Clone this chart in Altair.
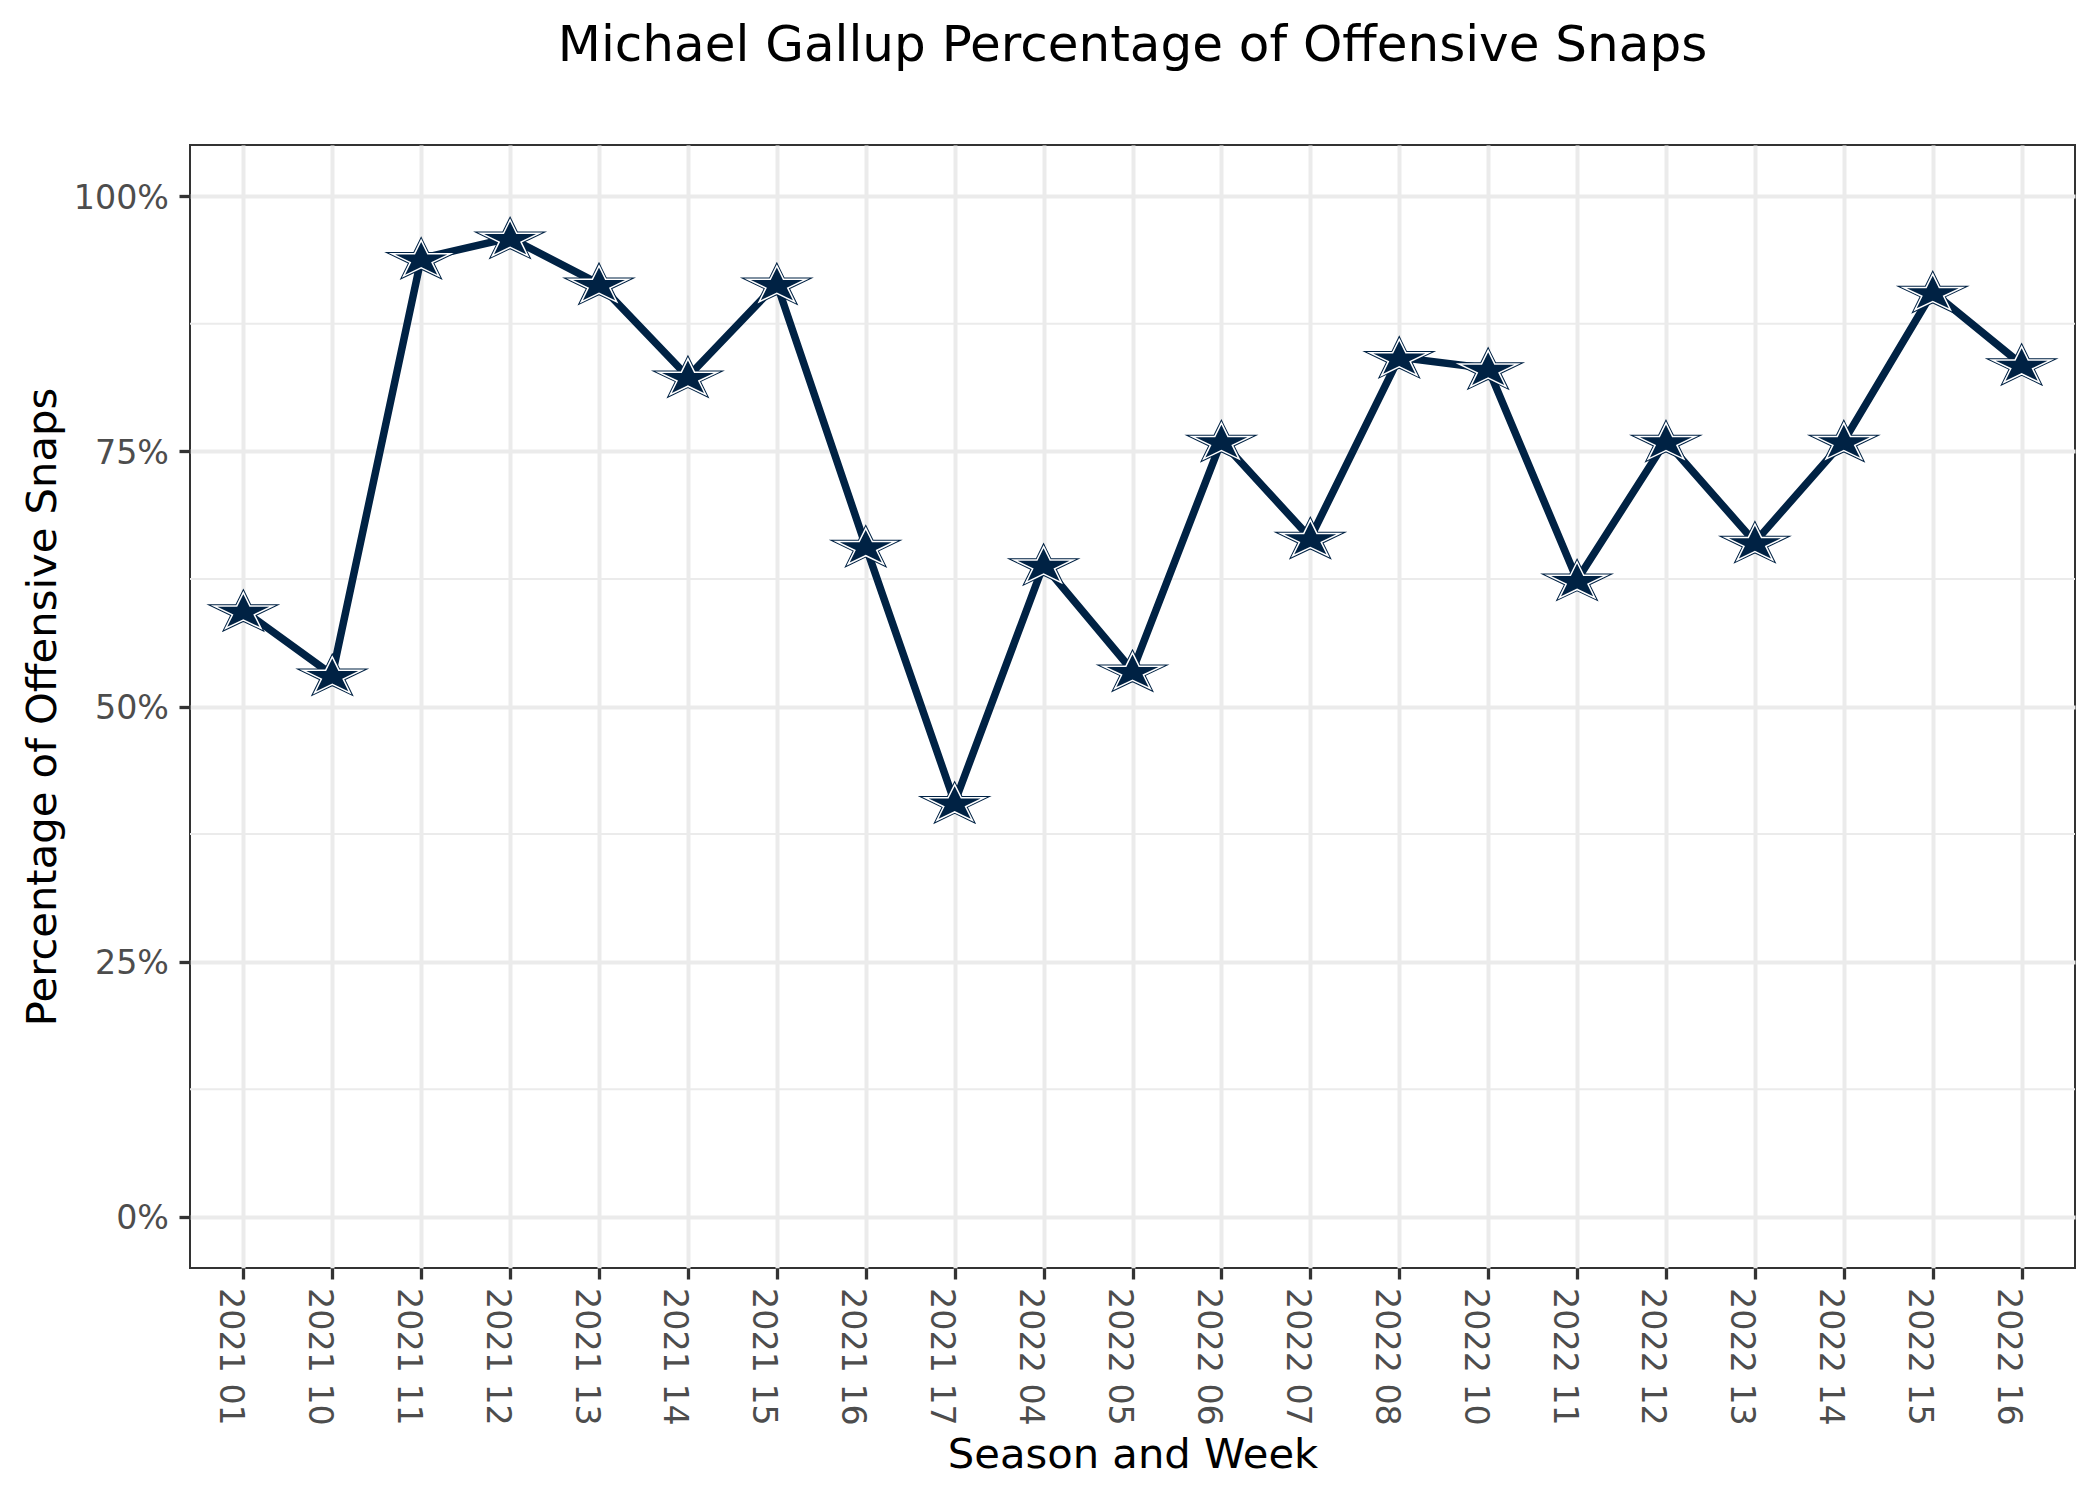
import math
import altair as alt
import pandas as pd

# ---- data ----
weeks = ["2021 01", "2021 10", "2021 11", "2021 12", "2021 13", "2021 14", "2021 15",
         "2021 16", "2021 17", "2022 04", "2022 05", "2022 06", "2022 07", "2022 08",
         "2022 10", "2022 11", "2022 12", "2022 13", "2022 14", "2022 15", "2022 16"]
snap_pct = [0.594, 0.531, 0.939, 0.959, 0.914, 0.823, 0.914,
            0.657, 0.406, 0.639, 0.535, 0.760, 0.665, 0.842,
            0.831, 0.624, 0.760, 0.661, 0.760, 0.906, 0.835]
y_major = [0, 0.25, 0.5, 0.75, 1.0]
y_minor = [0.125, 0.375, 0.625, 0.875]

NAVY = "#002244"
FONT = "DejaVu Sans"


def star_path(k=0.66, inner=0.382):
    """Five-pointed star shape (squashed vertically), bbox centred on origin."""
    c = 0.0955 * k
    pts = []
    for i in range(10):
        r = 1.0 if i % 2 == 0 else inner
        a = math.radians(36 * i)
        pts.append((r * math.sin(a), -r * math.cos(a) * k + c))
    return "M" + "L".join(f"{x:.4f},{y:.4f}" for x, y in pts) + "Z"


STAR = star_path()

df = pd.DataFrame({"week": weeks, "pct": snap_pct})
minor_df = pd.DataFrame({"pct": y_minor})

x_enc = alt.X(
    "week:O", sort=None, title="Season and Week",
    scale=alt.Scale(type="point", padding=0.6),
    axis=alt.Axis(
        grid=True, gridColor="#ebebeb", gridWidth=4, domain=False,
        ticks=True, tickColor="#333333", tickWidth=3.3, tickSize=11,
        labelAngle=90, labelAlign="left", labelBaseline="alphabetic",
        labelOffset=-24, labelPadding=8.6, labelFont=FONT, labelFontSize=33.3,
        labelColor="#4d4d4d", labelOverlap=False, labelFlush=False,
        titleFont=FONT, titleFontSize=41.7, titleFontWeight="normal",
        titleColor="black", titleY=199, titleBaseline="alphabetic",
        titleAlign="center",
    ),
)

y_enc = alt.Y(
    "pct:Q", title="Percentage of Offensive Snaps",
    scale=alt.Scale(domain=[-0.05, 1.05], nice=False, zero=False),
    axis=alt.Axis(
        values=y_major, format=".0%",
        grid=True, gridColor="#ebebeb", gridWidth=4, domain=False,
        ticks=True, tickColor="#333333", tickWidth=3.3, tickSize=11,
        labelPadding=10.5, labelFont=FONT, labelFontSize=33.3,
        labelColor="#4d4d4d", labelBaseline="middle", labelOffset=2,
        labelFlush=False,
        titleFont=FONT, titleFontSize=41.7, titleFontWeight="normal",
        titleColor="black", titleAngle=-90, titleX=-135, titleY=561.5,
        titleBaseline="alphabetic", titleAlign="center",
    ),
)

minor = alt.Chart(minor_df).mark_rule(color="#ebebeb", strokeWidth=2).encode(y=y_enc)

base = alt.Chart(df).encode(x=x_enc, y=y_enc)

line = base.mark_line(color=NAVY, strokeWidth=7.5, strokeJoin="round")

STAR_SIZE = 2990
star_a = base.mark_point(shape=STAR, size=STAR_SIZE, filled=True, fill=NAVY,
                         stroke=NAVY, strokeWidth=5.0, opacity=1,
                         strokeJoin="miter", strokeMiterLimit=10)
star_b = base.mark_point(shape=STAR, size=STAR_SIZE, filled=True, fill=NAVY,
                         stroke="white", strokeWidth=3.0, opacity=1,
                         strokeJoin="miter", strokeMiterLimit=10)
star_c = base.mark_point(shape=STAR, size=STAR_SIZE, filled=True, fill=NAVY,
                         strokeWidth=0, opacity=1)

chart = (
    alt.layer(minor, line, star_a, star_b, star_c)
    .properties(
        width=1885, height=1123,
        title=alt.TitleParams(
            "Michael Gallup Percentage of Offensive Snaps",
            font=FONT, fontSize=50, fontWeight="normal", color="black",
            anchor="middle", frame="group", baseline="alphabetic", offset=34,
        ),
        autosize=alt.AutoSizeParams(type="none"),
        padding={"left": 182, "top": 137, "right": 17, "bottom": 215},
        background="white",
    )
    .configure_view(stroke="#333333", strokeWidth=2)
)

chart.save("out.html", embed_options={"renderer": "svg", "actions": False})
